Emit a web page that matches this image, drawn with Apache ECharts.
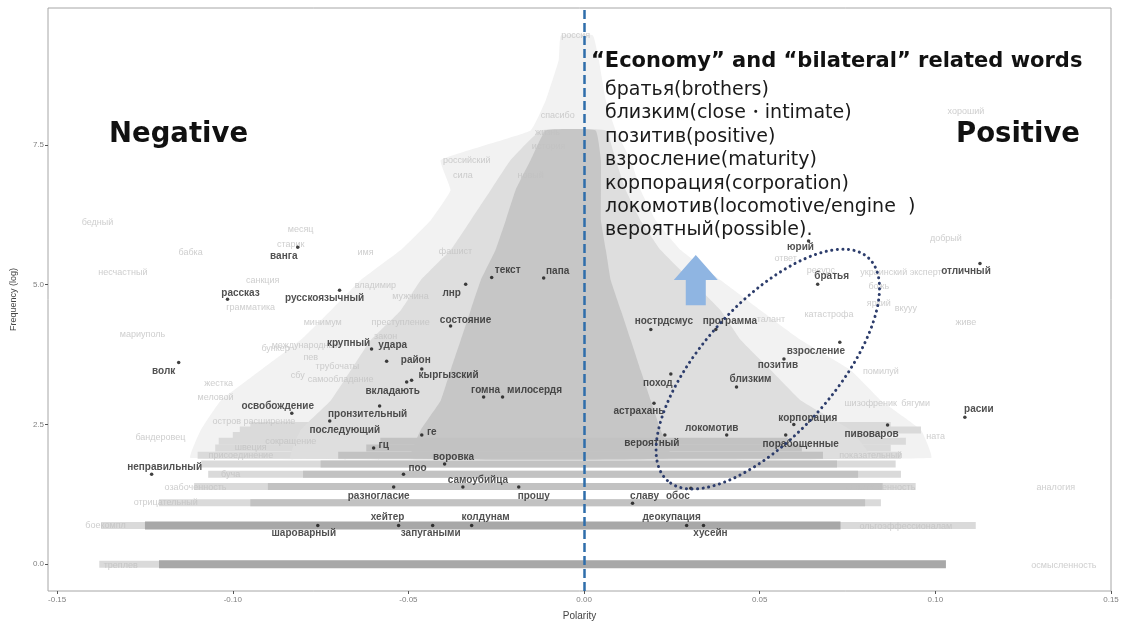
<!DOCTYPE html>
<html>
<head>
<meta charset="utf-8">
<script src="https://cdn.jsdelivr.net/npm/echarts@6.0.0/dist/echarts.min.js"></script>
<style>
  html, body { margin: 0; padding: 0; background: #fff; }
  #chart { width: 1123px; height: 626px; }
</style>
</head>
<body>
<div id="chart"></div>
<script>
//------------ data (polarity, log frequency)

var xTicks = [-0.15, -0.10, -0.05, 0.00, 0.05, 0.10, 0.15];
var yTicks = [0, 2.5, 5, 7.5];

// highlighted words: [polarity, log freq, word]
var labeledPoints = [
  [-0.0815, 5.67, 'ванга'],
  [-0.1015, 4.74, 'рассказ'],
  [-0.0696, 4.90, 'русскоязычный'],
  [-0.1154, 3.61, 'волк'],
  [-0.0605, 3.85, 'крупный'],
  [-0.0562, 3.63, 'удара'],
  [-0.0462, 3.49, 'район'],
  [-0.0491, 3.29, 'кыргызский'],
  [-0.0505, 3.26, 'вкладають'],
  [-0.0337, 5.01, 'лнр'],
  [-0.0263, 5.13, 'текст'],
  [-0.0115, 5.12, 'папа'],
  [-0.0380, 4.26, 'состояние'],
  [-0.0286, 2.99, 'гомна'],
  [-0.0232, 2.99, 'милосердя'],
  [-0.0582, 2.83, 'пронзительный'],
  [-0.0832, 2.70, 'освобождение'],
  [-0.0724, 2.56, 'последующий'],
  [-0.0462, 2.31, 'ге'],
  [-0.0599, 2.08, 'гц'],
  [-0.0397, 1.79, 'воровка'],
  [-0.0514, 1.61, 'поо'],
  [-0.0345, 1.38, 'самоубийца'],
  [-0.0542, 1.38, 'разногласие'],
  [-0.0186, 1.38, 'прошу'],
  [-0.0528, 0.69, 'хейтер'],
  [-0.0431, 0.69, 'запугаными'],
  [-0.0320, 0.69, 'колдунам'],
  [-0.0758, 0.69, 'шароварный'],
  [-0.1231, 1.61, 'неправильный'],
  [0.0190, 4.20, 'нострдсмус'],
  [0.0375, 4.20, 'программа'],
  [0.0639, 5.78, 'юрий'],
  [0.0665, 5.01, 'братья'],
  [0.0728, 3.97, 'взросление'],
  [0.0569, 3.67, 'позитив'],
  [0.0434, 3.17, 'близким'],
  [0.0247, 3.40, 'поход'],
  [0.0199, 2.88, 'астрахань'],
  [0.0230, 2.31, 'вероятный'],
  [0.0406, 2.31, 'локомотив'],
  [0.0597, 2.50, 'корпорация'],
  [0.0574, 2.31, 'порабощенные'],
  [0.0864, 2.49, 'пивоваров'],
  [0.0138, 1.09, 'славу'],
  [0.0304, 1.36, 'обос'],
  [0.0292, 0.69, 'деокупация'],
  [0.0340, 0.69, 'хусейн'],
  [0.1127, 5.38, 'отличный'],
  [0.1084, 2.63, 'расии']
];

// background words that are still readable: [polarity, log freq, word]
var grayWords = [
  [-0.1385, 6.12, 'бедный'], [-0.0807, 5.98, 'месяц'], [-0.0835, 5.71, 'старик'],
  [-0.1120, 5.58, 'бабка'], [-0.0622, 5.58, 'имя'], [-0.1313, 5.21, 'несчастный'],
  [-0.0915, 5.08, 'санкция'], [-0.0949, 4.60, 'грамматика'], [-0.1257, 4.11, 'мариуполь'],
  [-0.0744, 4.33, 'минимум'], [-0.0878, 3.85, 'бункер'], [-0.0792, 3.92, 'международный'],
  [-0.0778, 3.69, 'пев'], [-0.0702, 3.54, 'трубочаты'], [-0.0815, 3.38, 'сбу'],
  [-0.0693, 3.31, 'самообладание'], [-0.1040, 3.24, 'жестка'], [-0.1049, 2.99, 'меловой'],
  [-0.0940, 2.56, 'остров расширение'], [-0.1206, 2.27, 'бандеровец'], [-0.0835, 2.20, 'сокращение'],
  [-0.0949, 2.08, 'швеция'], [-0.0977, 1.95, 'присоединение'], [-0.1006, 1.61, 'буча'],
  [-0.1106, 1.38, 'озабоченность'], [-0.1191, 1.11, 'отрицательный'], [-0.1362, 0.70, 'боекомпл'],
  [-0.1319, -0.02, 'треплев'], [-0.0366, 5.60, 'фашист'], [-0.0334, 7.23, 'российский'],
  [-0.0345, 6.96, 'сила'], [-0.0594, 4.99, 'владимир'], [-0.0494, 4.79, 'мужчина'],
  [-0.0522, 4.33, 'преступление'], [-0.0565, 4.08, 'закон'],
  [0.1087, 8.10, 'хороший'], [0.1030, 5.83, 'добрый'], [0.0902, 5.22, 'украинский эксперт'],
  [0.0839, 4.96, 'божь'], [0.0839, 4.67, 'яркий'], [0.0916, 4.58, 'вкууу'],
  [0.1087, 4.33, 'живе'], [0.0845, 3.45, 'помилуй'], [0.0816, 2.88, 'шизофреник'],
  [0.0944, 2.88, 'бягуми'], [0.1001, 2.29, 'ната'], [0.0816, 1.95, 'показательный'],
  [0.0845, 1.38, 'ответственность'], [0.1343, 1.38, 'аналогия'], [0.1366, -0.02, 'осмысленность'],
  [0.0916, 0.68, 'ольгоэффессионалам'], [0.0697, 4.47, 'катастрофа'], [0.0574, 5.47, 'ответ'],
  [0.0674, 5.26, 'ресурс'], [0.0532, 4.37, 'талант'], [-0.0024, 9.46, 'россия'],
  [-0.0075, 8.03, 'спасибо'], [-0.0104, 7.73, 'жизнь'], [-0.0101, 7.48, 'история'],
  [-0.0152, 6.96, 'новый']
];

// overlapping words on low frequency levels: [log freq, from, to]
var bandRowsLight = [
  [0.00, -0.138, 0.103], [0.69, -0.1375, 0.1115], [1.10, -0.121, 0.0845],
  [1.39, -0.111, 0.0944], [1.61, -0.107, 0.0902], [1.79, -0.109, 0.0887],
  [1.95, -0.110, 0.0902], [2.08, -0.105, 0.0873], [2.20, -0.104, 0.0916],
  [2.30, -0.100, 0.0845], [2.40, -0.098, 0.0959], [2.48, -0.095, 0.0873]
];
var bandRowsMid = [
  [1.10, -0.095, 0.080], [1.39, -0.090, 0.085], [1.61, -0.080, 0.078],
  [1.79, -0.075, 0.072], [1.95, -0.070, 0.068], [2.08, -0.062, 0.062],
  [2.20, -0.058, 0.058]
];
var bandRowsDark = [
  [0.00, -0.121, 0.103], [0.69, -0.125, 0.073]
];

// outline of the word cloud: [log freq, left, right]
var cloudOuter = [
  [1.90, -0.1120, 0.0988], [2.40, -0.1091, 0.0959], [2.93, -0.1034, 0.0845],
  [3.47, -0.0921, 0.0759], [4.01, -0.0807, 0.0617], [4.54, -0.0721, 0.0503],
  [5.08, -0.0636, 0.0389], [5.62, -0.0522, 0.0275], [6.15, -0.0437, 0.0204],
  [6.69, -0.0380, 0.0161], [7.23, -0.0408, 0.0133], [7.76, -0.0152, 0.0090],
  [8.30, -0.0109, 0.0062], [9.02, -0.0072, 0.0042], [9.46, -0.0066, 0.0025]
];
var cloudMid = [
  [1.90, -0.0835, 0.0816], [2.40, -0.0807, 0.0759], [2.93, -0.0721, 0.0617],
  [3.47, -0.0664, 0.0532], [4.01, -0.0607, 0.0446], [4.54, -0.0522, 0.0389],
  [5.08, -0.0465, 0.0304], [5.62, -0.0380, 0.0218], [6.15, -0.0323, 0.0161],
  [6.69, -0.0266, 0.0119], [7.23, -0.0209, 0.0090], [7.76, -0.0123, 0.0062]
];
var cloudCore = [
  [1.90, -0.0494, 0.0247], [2.40, -0.0465, 0.0218], [2.93, -0.0408, 0.0190],
  [3.47, -0.0380, 0.0161], [4.01, -0.0351, 0.0133], [4.54, -0.0323, 0.0105],
  [5.08, -0.0294, 0.0076], [5.62, -0.0252, 0.0062], [6.15, -0.0223, 0.0048],
  [6.69, -0.0195, 0.0048], [7.23, -0.0152, 0.0048], [7.76, -0.0109, 0.0033]
];

var ellipseCenter = [0.0523, 3.49];
var arrowFrom = [0.0318, 4.63];
var arrowTo = [0.0318, 5.53];

var noteTitle = '“Economy” and “bilateral” related words';
var noteLines = [
  'братья(brothers)',
  'близким(close・intimate)',
  'позитив(positive)',
  'взросление(maturity)',
  'корпорация(corporation)',
  'локомотив(locomotive/engine  )',
  'вероятный(possible).'
];

// label placement (px) relative to each dot
var labelOffsets = {
  'ванга': [-14, 9], 'рассказ': [13, -6], 'русскоязычный': [-15, 8], 'волк': [-15, 9],
  'крупный': [-23, -6], 'удара': [6, -16], 'район': [-6, -9], 'кыргызский': [37, -5],
  'вкладають': [-14, 9], 'лнр': [-14, 9], 'текст': [16, -7], 'папа': [14, -7],
  'состояние': [15, -6], 'гомна': [2, -7], 'милосердя': [32, -7], 'пронзительный': [-12, 8],
  'освобождение': [-14, -7], 'последующий': [15, 9], 'ге': [10, -3], 'гц': [10, -3],
  'воровка': [9, -7], 'поо': [14, -6], 'самоубийца': [15, -7], 'разногласие': [-15, 9],
  'прошу': [15, 9], 'хейтер': [-11, -8], 'запугаными': [-2, 8], 'колдунам': [14, -8],
  'шароварный': [-14, 8], 'неправильный': [13, -7], 'нострдсмус': [13, -8],
  'программа': [14, -8], 'юрий': [-8, 6], 'братья': [14, -8], 'взросление': [-24, 9],
  'позитив': [-6, 6], 'близким': [14, -8], 'поход': [-13, 9], 'астрахань': [-15, 8],
  'вероятный': [-13, 8], 'локомотив': [-15, -7], 'корпорация': [14, -6],
  'порабощенные': [15, 9], 'пивоваров': [-16, 9], 'славу': [12, -7], 'обос': [-13, 8],
  'деокупация': [-15, -8], 'хусейн': [7, 8], 'отличный': [-14, 8], 'расии': [14, -8]
};

//------------ chart

var chart = echarts.init(document.getElementById('chart'));

function envelope(rows, color) {
  return {
    type: 'custom',
    silent: true,
    clip: true,
    data: [0],
    renderItem: function (params, api) {
      var left = rows.map(function (r) { return api.coord([r[1], r[0]]); });
      var right = rows.slice().reverse().map(function (r) { return api.coord([r[2], r[0]]); });
      return {
        type: 'polygon',
        shape: { points: left.concat(right), smooth: 0.1 },
        style: { fill: color }
      };
    }
  };
}

function bands(rows, color, h) {
  return {
    type: 'custom',
    silent: true,
    clip: true,
    data: rows,
    renderItem: function (params, api) {
      var r = rows[params.dataIndex];
      var p0 = api.coord([r[1], r[0]]);
      var p1 = api.coord([r[2], r[0]]);
      return {
        type: 'rect',
        shape: { x: p0[0], y: p0[1] - h / 2, width: p1[0] - p0[0], height: h },
        style: { fill: color }
      };
    }
  };
}

var option = {
  animation: false,
  backgroundColor: '#fff',
  grid: {
    left: 48, right: 12, top: 8, bottom: 35,
    show: true, borderColor: '#a6a6a6', borderWidth: 1
  },
  xAxis: {
    type: 'value',
    min: -0.1526, max: 0.15,
    name: 'Polarity',
    nameLocation: 'middle',
    nameGap: 20,
    nameTextStyle: { color: '#444', fontSize: 10, fontFamily: 'Liberation Sans' },
    axisLine: { show: false, onZero: false },
    splitLine: { show: false },
    axisTick: { show: true, length: 3, customValues: xTicks, lineStyle: { color: '#555' } },
    axisLabel: {
      customValues: xTicks, margin: 5, fontSize: 8, color: '#808080',
      fontFamily: 'Liberation Sans',
      formatter: function (v) { return v.toFixed(2); }
    }
  },
  yAxis: {
    type: 'value',
    min: -0.48, max: 9.95,
    name: 'Frequency (log)',
    nameLocation: 'middle',
    nameGap: 30,
    nameTextStyle: { color: '#444', fontSize: 9, fontFamily: 'Liberation Sans' },
    axisLine: { show: false, onZero: false },
    splitLine: { show: false },
    axisTick: { show: true, length: 3, customValues: yTicks, lineStyle: { color: '#555' } },
    axisLabel: {
      customValues: yTicks, margin: 4, fontSize: 8, color: '#808080',
      fontFamily: 'Liberation Sans',
      formatter: function (v) { return v.toFixed(1); }
    }
  },
  series: [
    envelope(cloudOuter, '#f2f2f2'),
    bands(bandRowsLight, '#dadada', 7),
    envelope(cloudMid, '#dedede'),
    envelope(cloudCore, '#c6c6c6'),
    bands(bandRowsMid, '#c2c2c2', 7),
    bands(bandRowsDark, '#a8a8a8', 8),
    {
      type: 'scatter',
      silent: true,
      symbolSize: 0,
      data: grayWords.map(function (w) { return { value: [w[0], w[1]], name: w[2] }; }),
      label: {
        show: true, position: 'inside', formatter: '{b}',
        fontSize: 9, color: '#c2c2c2', fontFamily: 'Liberation Sans'
      }
    },
    {
      type: 'scatter',
      symbolSize: 3.5,
      itemStyle: { color: '#111' },
      data: labeledPoints.map(function (p) {
        return {
          value: [p[0], p[1]], name: p[2],
          label: { offset: labelOffsets[p[2]] || [0, -8] }
        };
      }),
      label: {
        show: true, position: 'inside', formatter: '{b}',
        fontSize: 10, fontWeight: 'bold', color: '#262626', fontFamily: 'Liberation Sans'
      },
      markLine: {
        silent: true,
        symbol: ['none', 'none'],
        label: { show: false },
        lineStyle: { color: '#2f6eab', width: 2.5, type: [9, 4] },
        data: [{ xAxis: 0 }]
      },
      z: 5
    },
    {
      type: 'custom',
      silent: true,
      data: [0],
      z: 6,
      renderItem: function (params, api) {
        var c = api.coord(ellipseCenter);
        return {
          type: 'ellipse',
          x: c[0], y: c[1],
          rotation: 48 * Math.PI / 180,
          shape: { cx: 0, cy: 0, rx: 150, ry: 66 },
          style: { fill: 'none', stroke: '#2d3d6c', lineWidth: 3, lineDash: [0.1, 5.5], lineCap: 'round' }
        };
      }
    },
    {
      type: 'custom',
      silent: true,
      data: [0],
      z: 6,
      renderItem: function (params, api) {
        var b = api.coord(arrowFrom);
        var t = api.coord(arrowTo);
        var hy = t[1] + 25;
        return {
          type: 'polygon',
          shape: {
            points: [
              [b[0] - 10, b[1]], [b[0] - 10, hy], [b[0] - 22, hy], [t[0], t[1]],
              [b[0] + 22, hy], [b[0] + 10, hy], [b[0] + 10, b[1]]
            ]
          },
          style: { fill: '#8fb5e2' }
        };
      }
    }
  ],
  graphic: [
    {
      type: 'text', x: 109, y: 135, z: 20,
      style: { text: 'Negative', fill: '#111', font: 'bold 27.5px "DejaVu Sans"', verticalAlign: 'middle' }
    },
    {
      type: 'text', x: 956, y: 135, z: 20,
      style: { text: 'Positive', fill: '#111', font: 'bold 27.5px "DejaVu Sans"', verticalAlign: 'middle' }
    },
    {
      type: 'text', x: 591, y: 62, z: 20,
      style: { text: noteTitle, fill: '#111', font: 'bold 21px "DejaVu Sans"', verticalAlign: 'middle' }
    }
  ].concat(noteLines.map(function (t, i) {
    return {
      type: 'text', x: 605, y: 90 + i * 23.4, z: 20,
      style: { text: t, fill: '#1a1a1a', font: '19px "DejaVu Sans"', verticalAlign: 'middle' }
    };
  }))
};

chart.setOption(option);
</script>
</body>
</html>
